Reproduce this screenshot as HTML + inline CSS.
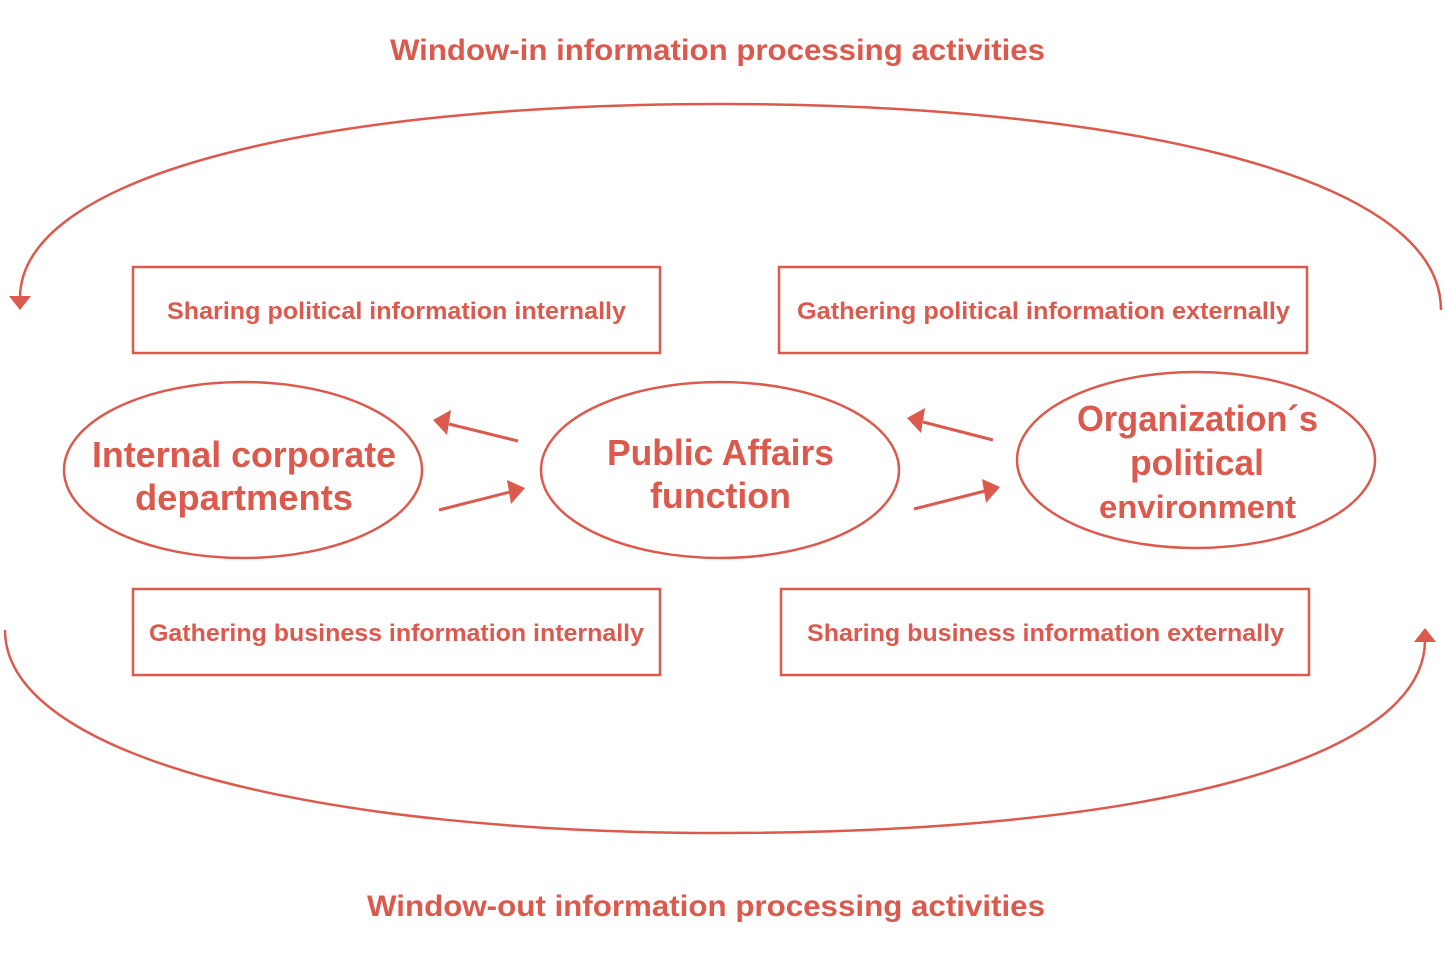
<!DOCTYPE html>
<html><head><meta charset="utf-8"><style>
html,body{margin:0;padding:0;background:#fff;}
svg{display:block;}
text{font-family:"Liberation Sans",sans-serif;font-weight:bold;fill:#dc5a4d;}
</style></head><body>
<svg width="1445" height="964" viewBox="0 0 1445 964" xmlns="http://www.w3.org/2000/svg">
<defs>
<marker id="ah" markerWidth="10" markerHeight="10" refX="8" refY="5" orient="auto" markerUnits="userSpaceOnUse" viewBox="0 0 10 10">
<path d="M0,0 L10,5 L0,10 z" fill="#dc5a4d"/></marker>
</defs>
<g stroke="#dc5a4d" stroke-width="2.5" fill="none">
<path d="M1441,310 C1441,170 1100,104 720,104 C320,104 20,175 20,298"/>
<path d="M5,630 C5,760 330,833 720,833 C1150,833 1425,760 1425,640"/>
<ellipse cx="243" cy="470" rx="179" ry="88"/>
<ellipse cx="720" cy="470" rx="179" ry="88"/>
<ellipse cx="1196" cy="460" rx="179" ry="88"/>
<rect x="133" y="267" width="527" height="86"/>
<rect x="779" y="267" width="528" height="86"/>
<rect x="133" y="589" width="527" height="86"/>
<rect x="781" y="589" width="528" height="86"/>
<g stroke-width="3">
<line x1="518" y1="441" x2="449" y2="424"/>
<line x1="439" y1="510" x2="510" y2="492"/>
<line x1="993" y1="440" x2="923" y2="422"/>
<line x1="914" y1="509" x2="985" y2="491"/>
</g>
</g>
<g fill="#dc5a4d">
<path d="M9,296 L31,296 L20,310 z"/>
<path d="M1414,642 L1436,642 L1425,628 z"/>
<path d="M433,420 L451,410 L447,435 z"/>
<path d="M525,488 L507,480 L511,504 z"/>
<path d="M907,418 L925,408 L921,433 z"/>
<path d="M1000,487 L982,479 L986,503 z"/>
</g>
<text x="390" y="60" font-size="30" textLength="655" lengthAdjust="spacingAndGlyphs">Window-in information processing activities</text>
<text x="367" y="916" font-size="30" textLength="678" lengthAdjust="spacingAndGlyphs">Window-out information processing activities</text>
<text x="167" y="319" font-size="24" textLength="459" lengthAdjust="spacingAndGlyphs">Sharing political information internally</text>
<text x="797" y="319" font-size="24" textLength="493" lengthAdjust="spacingAndGlyphs">Gathering political information externally</text>
<text x="149" y="641" font-size="24" textLength="495" lengthAdjust="spacingAndGlyphs">Gathering business information internally</text>
<text x="807" y="641" font-size="24" textLength="477" lengthAdjust="spacingAndGlyphs">Sharing business information externally</text>
<text x="92" y="467" font-size="36" textLength="304" lengthAdjust="spacingAndGlyphs">Internal corporate</text>
<text x="135" y="510" font-size="36" textLength="218" lengthAdjust="spacingAndGlyphs">departments</text>
<text x="607" y="465" font-size="36" textLength="227" lengthAdjust="spacingAndGlyphs">Public Affairs</text>
<text x="650" y="508" font-size="36" textLength="141" lengthAdjust="spacingAndGlyphs">function</text>
<text x="1077" y="431" font-size="36" textLength="241" lengthAdjust="spacingAndGlyphs">Organization´s</text>
<text x="1130" y="475" font-size="36" textLength="134" lengthAdjust="spacingAndGlyphs">political</text>
<text x="1099" y="518" font-size="32" textLength="197" lengthAdjust="spacingAndGlyphs">environment</text>
</svg>
</body></html>
